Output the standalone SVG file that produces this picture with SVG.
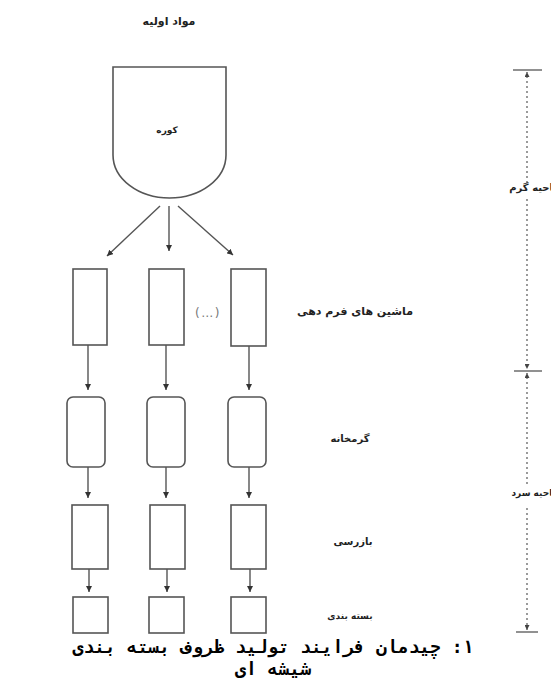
<svg xmlns="http://www.w3.org/2000/svg" width="551" height="685" viewBox="0 0 551 685">
<style>
.box{fill:#fff;stroke:#555;stroke-width:1.6}
.ln{fill:none;stroke:#555;stroke-width:1.4}
.dim{fill:none;stroke:#666;stroke-width:1.3;stroke-dasharray:2 3}
.tick{fill:none;stroke:#555;stroke-width:1.3}
.lbl{font-family:"DejaVu Sans",sans-serif;font-weight:bold;fill:#222;text-anchor:middle}
.cap{font-family:"DejaVu Sans Mono",monospace;font-weight:bold;font-size:18px;fill:#000;text-anchor:middle}
</style>
<defs>
<marker id="ah" viewBox="0 0 10 10" refX="10" refY="5" markerWidth="6" markerHeight="6" markerUnits="userSpaceOnUse" orient="auto">
<path d="M0,0 L10,5 L0,10 Z" fill="#333"/>
</marker>
<marker id="dh" viewBox="0 0 10 10" refX="10" refY="5" markerWidth="5" markerHeight="5" markerUnits="userSpaceOnUse" orient="auto">
<path d="M0,0 L10,5 L0,10 Z" fill="#444"/>
</marker>
</defs>
<rect width="551" height="685" fill="#fff"/>

<g id="title"><text class="lbl" x="169" y="25" font-size="11">مواد اولیه</text></g>

<g id="kiln">
<path class="box" d="M113,67 H226 V155 A56.5,43 0 0 1 113,155 Z"/>
<text class="lbl" x="167" y="133" font-size="9">کوره</text>
</g>

<g id="forming">
<rect id="f1" class="box" x="73" y="269" width="34" height="76"/>
<rect id="f2" class="box" x="149" y="269" width="35" height="76"/>
<rect id="f3" class="box" x="231" y="269" width="35" height="77"/>
<text x="208" y="317" font-family="DejaVu Sans, sans-serif" font-size="12" letter-spacing="1.5" fill="#777" text-anchor="middle">(…)</text>
</g>

<g id="annealing">
<rect id="a1" class="box" x="67" y="397" width="38" height="70" rx="6"/>
<rect id="a2" class="box" x="147" y="397" width="38" height="70" rx="6"/>
<rect id="a3" class="box" x="228" y="397" width="38" height="70" rx="6"/>
</g>

<g id="inspection">
<rect id="i1" class="box" x="72" y="505" width="36" height="64"/>
<rect id="i2" class="box" x="150" y="505" width="35" height="64"/>
<rect id="i3" class="box" x="231" y="505" width="35" height="64"/>
</g>

<g id="packing">
<rect id="p1" class="box" x="73" y="597" width="35" height="36"/>
<rect id="p2" class="box" x="149" y="597" width="35" height="36"/>
<rect id="p3" class="box" x="231" y="597" width="35" height="36"/>
</g>

<g id="connectors">
<line class="ln" x1="160" y1="206" x2="107" y2="256" marker-end="url(#ah)"/>
<line class="ln" x1="169" y1="206" x2="169" y2="251" marker-end="url(#ah)"/>
<line class="ln" x1="178" y1="206" x2="233" y2="255" marker-end="url(#ah)"/>
<line class="ln" x1="88" y1="345" x2="88" y2="390" marker-end="url(#ah)"/>
<line class="ln" x1="166" y1="345" x2="166" y2="390" marker-end="url(#ah)"/>
<line class="ln" x1="249" y1="346" x2="249" y2="390" marker-end="url(#ah)"/>
<line class="ln" x1="88" y1="467" x2="88" y2="498" marker-end="url(#ah)"/>
<line class="ln" x1="166" y1="467" x2="166" y2="498" marker-end="url(#ah)"/>
<line class="ln" x1="249" y1="467" x2="249" y2="498" marker-end="url(#ah)"/>
<line class="ln" x1="89" y1="569" x2="89" y2="592" marker-end="url(#ah)"/>
<line class="ln" x1="167" y1="569" x2="167" y2="592" marker-end="url(#ah)"/>
<line class="ln" x1="250" y1="569" x2="250" y2="592" marker-end="url(#ah)"/>
</g>

<g id="stage-labels">
<text class="lbl" x="355" y="315" font-size="11">ماشین های فرم دهی</text>
<text class="lbl" x="350" y="442" font-size="10">گرمخانه</text>
<text class="lbl" x="353" y="545" font-size="10">بازرسی</text>
<text class="lbl" x="350" y="619" font-size="9">بسته بندی</text>
</g>

<g id="zones">
<line class="tick" x1="513" y1="70" x2="542" y2="70"/>
<line class="tick" x1="514" y1="371" x2="542" y2="371"/>
<line class="tick" x1="516" y1="632" x2="538" y2="632"/>
<line class="dim" x1="527" y1="183" x2="527" y2="72" marker-end="url(#dh)"/>
<line class="dim" x1="527" y1="199" x2="527" y2="369" marker-end="url(#dh)"/>
<line class="dim" x1="527" y1="484" x2="527" y2="373" marker-end="url(#dh)"/>
<line class="dim" x1="527" y1="508" x2="527" y2="630" marker-end="url(#dh)"/>
<text class="lbl" x="557" y="191" font-size="10" style="text-anchor:end">ناحیه گرم</text>
<text class="lbl" x="556" y="496" font-size="9" style="text-anchor:end">ناحیه سرد</text>
</g>

<g id="caption">
<text class="cap" x="273" y="653" direction="rtl">۱: چیدمان فرایند تولید ظروف بسته بندی</text>
<text class="cap" x="273" y="675" direction="rtl">شیشه ای</text>
</g>
</svg>
